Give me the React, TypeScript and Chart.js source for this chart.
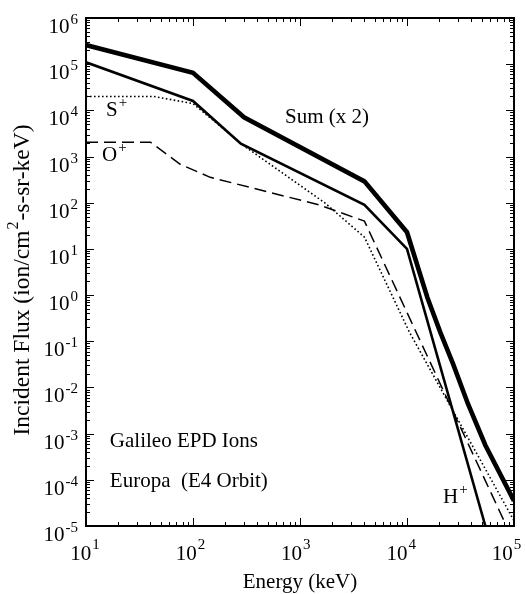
import React, { useEffect, useRef } from 'react';
import { Chart, registerables } from 'chart.js';

Chart.register(...registerables);

// ---- axes ----
const X_MIN = 10;
const X_MAX = 1e5;
const Y_MIN = 1e-5;
const Y_MAX = 1e6;
const X_EXPONENTS = [1, 2, 3, 4, 5];
const Y_EXPONENTS = [6, 5, 4, 3, 2, 1, 0, -1, -2, -3, -4, -5];

// ---- series (energy in keV, flux in ion/cm^2-s-sr-keV) ----
const sumEnergy = [10, 100, 300, 4000, 10000, 15500, 20400, 27000, 37000, 54000, 100000];
const sumFlux = [2.6e5, 6.5e4, 7.1e3, 290, 23, 0.89, 0.16, 0.032, 0.0045, 5.6e-4, 3.5e-5];

const hPlusEnergy = [10, 100, 280, 4000, 10000, 54000];
const hPlusFlux = [1.1e5, 1.6e4, 1.9e3, 90, 10, 1e-5];

const sPlusEnergy = [10, 43, 100, 300, 1700, 4000, 10500, 100000];
const sPlusFlux = [2e4, 2e4, 1.4e4, 1.7e3, 100, 18, 0.16, 1.3e-5];

const oPlusEnergy = [10, 40, 76, 145, 370, 1500, 4000, 85000];
const oPlusFlux = [2050, 2050, 680, 355, 205, 90, 40, 1e-5];

// ---- in-plot labels (text, superscript, anchored at energy / flux) ----
const labelText = ['S', 'O', 'Sum (x 2)', 'Galileo EPD Ions', 'Europa  (E4 Orbit)', 'H'];
const labelSup = ['+', '+', '', '', '', '+'];
const labelEnergy = [15.4, 14.1, 725, 16.7, 16.7, 21700];
const labelFlux = [7550, 794, 5320, 5.1e-4, 7.0e-5, 3.15e-5];

const X_TITLE = 'Energy (keV)';
const Y_TITLE_A = 'Incident Flux (ion/cm';
const Y_TITLE_SUP = '2';
const Y_TITLE_B = '-s-sr-keV)';

const SERIF = '"Liberation Serif", "Times New Roman", Times, serif';

function toPoints(xs: number[], ys: number[]) {
  return xs.map((x, i) => ({ x, y: ys[i] }));
}

function drawSup(
  ctx: CanvasRenderingContext2D,
  base: string,
  sup: string,
  x: number,
  y: number,
  baseSize: number,
  supSize: number,
  rise: number,
  align: 'left' | 'right' | 'center'
) {
  ctx.font = `${baseSize}px ${SERIF}`;
  const wb = ctx.measureText(base).width;
  ctx.font = `${supSize}px ${SERIF}`;
  const ws = sup ? ctx.measureText(sup).width : 0;
  const gap = sup ? 1 : 0;
  const total = wb + gap + ws;
  const left = align === 'left' ? x : align === 'right' ? x - total : x - total / 2;
  ctx.textAlign = 'left';
  ctx.textBaseline = 'alphabetic';
  ctx.font = `${baseSize}px ${SERIF}`;
  ctx.fillText(base, left, y);
  if (sup) {
    ctx.font = `${supSize}px ${SERIF}`;
    ctx.fillText(sup, left + wb + gap, y - rise);
  }
}

const framePlugin = {
  id: 'framePlugin',
  afterDatasetsDraw(chart: any) {
    const { ctx, chartArea: a, scales } = chart;
    const xs = scales.x;
    const ys = scales.y;
    ctx.save();
    ctx.strokeStyle = '#000';
    ctx.fillStyle = '#000';

    // frame
    ctx.lineWidth = 2;
    ctx.strokeRect(a.left, a.top, a.right - a.left, a.bottom - a.top);

    // ticks on all four sides, pointing inward
    ctx.lineWidth = 1;
    ctx.beginPath();
    for (let e = X_EXPONENTS[0]; e <= X_EXPONENTS[X_EXPONENTS.length - 1]; e++) {
      for (let m = 1; m <= 9; m++) {
        const v = m * Math.pow(10, e);
        if (v > X_MAX * 1.0001) break;
        const px = Math.round(xs.getPixelForValue(v)) + 0.5;
        const len = m === 1 ? 8 : 4;
        ctx.moveTo(px, a.bottom);
        ctx.lineTo(px, a.bottom - len);
        ctx.moveTo(px, a.top);
        ctx.lineTo(px, a.top + len);
      }
    }
    const yLow = Y_EXPONENTS[Y_EXPONENTS.length - 1];
    const yHigh = Y_EXPONENTS[0];
    for (let e = yLow; e <= yHigh; e++) {
      for (let m = 1; m <= 9; m++) {
        const v = m * Math.pow(10, e);
        if (v > Y_MAX * 1.0001) break;
        const py = Math.round(ys.getPixelForValue(v)) + 0.5;
        const len = m === 1 ? 8 : 4;
        ctx.moveTo(a.left, py);
        ctx.lineTo(a.left + len, py);
        ctx.moveTo(a.right, py);
        ctx.lineTo(a.right - len, py);
      }
    }
    ctx.stroke();

    // y tick labels
    Y_EXPONENTS.forEach((e) => {
      const py = ys.getPixelForValue(Math.pow(10, e));
      drawSup(ctx, '10', String(e), a.left - 8, py + 15, 21, 15, 9, 'right');
    });
    // x tick labels (slightly drawn in toward the left, as in the scanned original)
    X_EXPONENTS.forEach((e) => {
      const px = xs.getPixelForValue(Math.pow(10, e));
      const cx = px - 1 - (px - a.left) * 0.015;
      drawSup(ctx, '10', String(e), cx, a.bottom + 34, 21, 15, 11, 'center');
    });

    // x title
    ctx.font = `21px ${SERIF}`;
    ctx.textAlign = 'center';
    ctx.textBaseline = 'alphabetic';
    ctx.fillText(X_TITLE, (a.left + a.right) / 2, a.bottom + 62);

    // y title (rotated)
    ctx.save();
    ctx.translate(29, (a.top + a.bottom) / 2 + 8);
    ctx.rotate(-Math.PI / 2);
    const tSize = 23.5;
    const sSize = 16;
    ctx.font = `${tSize}px ${SERIF}`;
    const wA = ctx.measureText(Y_TITLE_A).width;
    const wB = ctx.measureText(Y_TITLE_B).width;
    ctx.font = `${sSize}px ${SERIF}`;
    const wS = ctx.measureText(Y_TITLE_SUP).width;
    const total = wA + wS + 2 + wB;
    let cx = -total / 2;
    ctx.textAlign = 'left';
    ctx.font = `${tSize}px ${SERIF}`;
    ctx.fillText(Y_TITLE_A, cx, 0);
    cx += wA + 1;
    ctx.font = `${sSize}px ${SERIF}`;
    ctx.fillText(Y_TITLE_SUP, cx, -11);
    cx += wS + 1;
    ctx.font = `${tSize}px ${SERIF}`;
    ctx.fillText(Y_TITLE_B, cx, 0);
    ctx.restore();

    // in-plot labels
    labelText.forEach((t, i) => {
      const px = xs.getPixelForValue(labelEnergy[i]);
      const py = ys.getPixelForValue(labelFlux[i]);
      drawSup(ctx, t, labelSup[i], px, py, 21, 15, 9, 'left');
    });

    ctx.restore();
  },
};

export default function App() {
  const canvasRef = useRef<HTMLCanvasElement | null>(null);

  useEffect(() => {
    const canvas = canvasRef.current;
    if (!canvas) return;
    const chart = new Chart(canvas, {
      type: 'line',
      data: {
        datasets: [
          {
            label: 'O+',
            data: toPoints(oPlusEnergy, oPlusFlux),
            borderColor: '#000',
            borderWidth: 1.5,
            borderDash: [12, 6],
            pointRadius: 0,
            tension: 0,
            fill: false,
          },
          {
            label: 'S+',
            data: toPoints(sPlusEnergy, sPlusFlux),
            borderColor: '#000',
            borderWidth: 1.6,
            borderDash: [1.6, 2.4],
            pointRadius: 0,
            tension: 0,
            fill: false,
          },
          {
            label: 'H+',
            data: toPoints(hPlusEnergy, hPlusFlux),
            borderColor: '#000',
            borderWidth: 2.6,
            pointRadius: 0,
            tension: 0,
            fill: false,
          },
          {
            label: 'Sum (x 2)',
            data: toPoints(sumEnergy, sumFlux),
            borderColor: '#000',
            borderWidth: 4.6,
            pointRadius: 0,
            tension: 0,
            fill: false,
          },
        ],
      },
      options: {
        responsive: false,
        animation: false,
        parsing: false as any,
        layout: { padding: { left: 86, right: 11, top: 18, bottom: 68 } },
        plugins: {
          legend: { display: false },
          tooltip: { enabled: false },
          title: { display: false },
        },
        scales: {
          x: {
            type: 'logarithmic',
            min: X_MIN,
            max: X_MAX,
            display: false,
          },
          y: {
            type: 'logarithmic',
            min: Y_MIN,
            max: Y_MAX,
            display: false,
          },
        },
      },
      plugins: [framePlugin],
    });
    return () => chart.destroy();
  }, []);

  return (
    <div style={{ position: 'absolute', left: 0, top: 0, width: 525, height: 594, background: '#fff' }}>
      <canvas ref={canvasRef} width={525} height={594} style={{ display: 'block', width: 525, height: 594 }} />
    </div>
  );
}
